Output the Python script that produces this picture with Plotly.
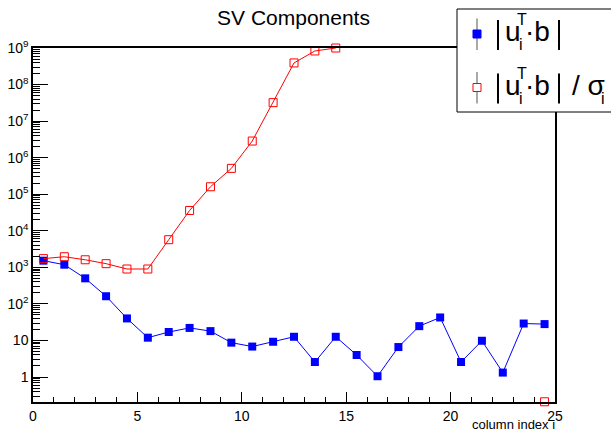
import plotly.graph_objects as go

# Column index (bin centres) and the two SV component series
columns = [0.5, 1.5, 2.5, 3.5, 4.5, 5.5, 6.5, 7.5, 8.5, 9.5, 10.5, 11.5, 12.5,
           13.5, 14.5, 15.5, 16.5, 17.5, 18.5, 19.5, 20.5, 21.5, 22.5, 23.5, 24.5]
utb = [1520, 1180, 500, 162, 40, 11.9, 17, 22, 18, 8.7, 6.8, 9.2, 12.6,
       2.57, 12.6, 4.0, 1.05, 6.6, 24.6, 42.5, 2.57, 9.8, 1.32, 29, 28]
utb_over_sigma = [1730, 1950, 1610, 1260, 900, 900, 5700, 35900, 1.6e5, 5.1e5,
                  2.85e6, 3.2e7, 3.9e8, 8.3e8, 1.0e9,
                  None, None, None, None, None, None, None, None, None, 0.21]

x_ticks = [0, 5, 10, 15, 20, 25]
y_ticks = [1, 10, 1e2, 1e3, 1e4, 1e5, 1e6, 1e7, 1e8, 1e9]
y_ticktext = ["1", "10", "10<sup>2</sup>", "10<sup>3</sup>", "10<sup>4</sup>",
              "10<sup>5</sup>", "10<sup>6</sup>", "10<sup>7</sup>", "10<sup>8</sup>",
              "10<sup>9</sup>"]

W, H = 611, 433
ML, MR, MT, MB = 33, 56, 48, 31
FONT = "Liberation Sans, Arial, Helvetica, sans-serif"


def px(x):
    return (x - ML) / (W - ML - MR)


def py(y):
    return (H - MB - y) / (H - MT - MB)


fig = go.Figure()
fig.add_trace(go.Scatter(
    x=columns, y=utb, mode="lines+markers",
    line=dict(color="#0000ff", width=1),
    marker=dict(symbol="square", size=8, color="#0000ff"),
    name="|u_i^T b|"))
fig.add_trace(go.Scatter(
    x=columns, y=utb_over_sigma, mode="lines+markers", connectgaps=False,
    line=dict(color="#ff0000", width=1),
    marker=dict(symbol="square-open", size=8, color="#ff0000", line=dict(width=1)),
    cliponaxis=False, name="|u_i^T b|/sigma_i"))

fig.update_layout(
    width=W, height=H,
    margin=dict(l=ML, r=MR, t=MT, b=MB, autoexpand=False),
    paper_bgcolor="white", plot_bgcolor="white",
    showlegend=False,
    font=dict(family=FONT, color="black"),
    title=dict(text="SV Components", x=293.5 / W, xanchor="center",
               xref="container", y=1 - 18 / H, yref="container", yanchor="middle",
               font=dict(size=21, family=FONT, color="black")),
)
fig.update_xaxes(
    range=[0, 25], tickmode="array", tickvals=x_ticks, automargin=False,
    ticks="inside", ticklen=10, tickwidth=1, tickcolor="black",
    showline=True, linecolor="black", linewidth=1.5, mirror=True,
    showgrid=False, zeroline=False, tickfont=dict(size=14),
    minor=dict(dtick=1, ticks="inside", ticklen=5, tickcolor="black", showgrid=False),
)
fig.update_yaxes(
    type="log", range=[-0.684, 9], tickmode="array", tickvals=y_ticks,
    ticktext=y_ticktext, automargin=False,
    ticks="inside", ticklen=15, tickwidth=1, tickcolor="black",
    showline=True, linecolor="black", linewidth=1.5, mirror=True,
    showgrid=False, zeroline=False, tickfont=dict(size=14),
    minor=dict(dtick="D1", ticks="inside", ticklen=7, tickcolor="black", showgrid=False),
)

fig.add_annotation(text="column index i", xref="paper", yref="paper",
                   x=px(556), y=py(424.5), xanchor="right", yanchor="middle",
                   showarrow=False, borderpad=0, font=dict(size=13))

# Legend box, drawn by hand so the stacked sub/superscripts can be placed
P = dict(xref="paper", yref="paper", layer="above")
shapes = [
    dict(type="rect", x0=px(457), x1=px(615), y0=py(112), y1=py(9),
         line=dict(color="black", width=1), fillcolor="white", **P),
    dict(type="line", x0=px(477), x1=px(477), y0=py(50), y1=py(18.5),
         line=dict(color="#555555", width=1), **P),
    dict(type="rect", x0=px(473), x1=px(481), y0=py(38), y1=py(30),
         line=dict(color="#0000ff", width=1), fillcolor="#0000ff", **P),
    dict(type="line", x0=px(477), x1=px(477), y0=py(103.5), y1=py(72),
         line=dict(color="#555555", width=1), **P),
    dict(type="rect", x0=px(473), x1=px(481), y0=py(91.5), y1=py(83.5),
         line=dict(color="#ff0000", width=1), fillcolor="white", **P),
]
for top, bot in [(20, 50), (73.5, 103.5)]:
    for xb in (498, 559):
        shapes.append(dict(type="line", x0=px(xb), x1=px(xb), y0=py(bot), y1=py(top),
                           line=dict(color="black", width=2), **P))
fig.update_layout(shapes=shapes)


def label(text, x, baseline, size):
    fig.add_annotation(text=text, xref="paper", yref="paper",
                       x=px(x), y=py(baseline - 0.3465 * size),
                       xanchor="left", yanchor="middle", showarrow=False,
                       borderpad=0, font=dict(size=size, color="black"))


for base in (41, 95):
    label("u", 504, base, 28)
    label("T", 516, base - 16, 16)
    label("i", 517.5, base + 9, 16)
    label("·b", 524, base, 28)
label("/ σ", 571, 95, 28)
label("i", 600, 104, 16)

fig.write_html("out.html")
